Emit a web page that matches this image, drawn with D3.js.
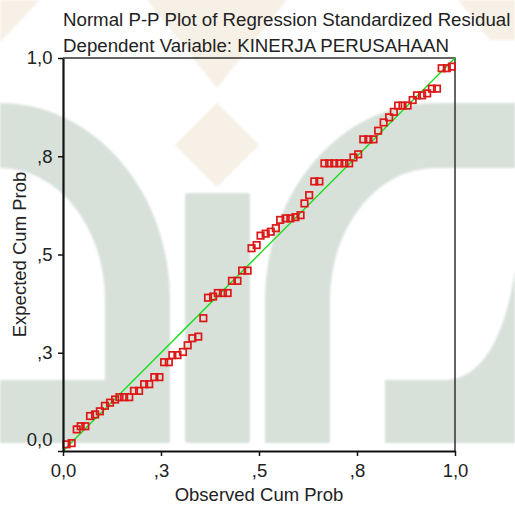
<!DOCTYPE html>
<html>
<head>
<meta charset="utf-8">
<script src="https://cdn.jsdelivr.net/npm/d3@7"></script>
<style>
  body { margin: 0; background: #fff; }
  svg { display: block; }
  text { font-family: "Liberation Sans", Arial, sans-serif; fill: #222; }
</style>
</head>
<body>
<div id="chart"></div>
<script>
// values
var observed = [0.009, 0.022, 0.035, 0.045, 0.057, 0.069, 0.082, 0.094, 0.107, 0.120,
    0.133, 0.144, 0.156, 0.169, 0.181, 0.194, 0.207, 0.220, 0.233, 0.246,
    0.258, 0.270, 0.279, 0.292, 0.306, 0.318, 0.330, 0.345, 0.358, 0.370,
    0.383, 0.395, 0.408, 0.420, 0.431, 0.445, 0.457, 0.471, 0.481, 0.494,
    0.504, 0.517, 0.530, 0.543, 0.554, 0.568, 0.580, 0.593, 0.606, 0.616,
    0.628, 0.641, 0.654, 0.667, 0.679, 0.692, 0.705, 0.718, 0.730, 0.741,
    0.753, 0.766, 0.779, 0.792, 0.804, 0.818, 0.832, 0.844, 0.855, 0.866,
    0.879, 0.892, 0.903, 0.916, 0.929, 0.941, 0.954, 0.966, 0.979, 0.992];
var expected = [0.017, 0.020, 0.055, 0.063, 0.063, 0.089, 0.093, 0.101, 0.115, 0.123,
    0.131, 0.137, 0.137, 0.137, 0.153, 0.153, 0.170, 0.170, 0.188, 0.188,
    0.226, 0.226, 0.244, 0.244, 0.252, 0.269, 0.287, 0.291, 0.338, 0.390,
    0.393, 0.402, 0.402, 0.402, 0.433, 0.433, 0.459, 0.459, 0.516, 0.524,
    0.548, 0.553, 0.558, 0.567, 0.588, 0.592, 0.592, 0.595, 0.600, 0.630,
    0.651, 0.686, 0.686, 0.732, 0.732, 0.732, 0.732, 0.732, 0.732, 0.747,
    0.755, 0.793, 0.793, 0.793, 0.815, 0.836, 0.849, 0.863, 0.879, 0.879,
    0.879, 0.893, 0.905, 0.905, 0.910, 0.922, 0.922, 0.974, 0.974, 0.978];
var tickValues = [0, 0.25, 0.5, 0.75, 1];
var tickLabels = ["0,0", ",3", ",5", ",8", "1,0"];
var refLine = [0, 1];
var titleLines = ["Normal P-P Plot of Regression Standardized Residual",
    "Dependent Variable: KINERJA PERUSAHAAN"];
var xTitle = "Observed Cum Prob";
var yTitle = "Expected Cum Prob";

var width = 515, height = 506;
var margin = {top: 58, right: 60, bottom: 55, left: 63};
var plotW = width - margin.left - margin.right;
var plotH = height - margin.top - margin.bottom;

var svg = d3.select("#chart").append("svg")
    .attr("width", width)
    .attr("height", height);

svg.append("rect").attr("width", width).attr("height", height).attr("fill", "#fff");

// faint logo in the background
function drawWatermark(){
    var defs = svg.append("defs");
    defs.append("filter").attr("id", "soft")
        .append("feGaussianBlur").attr("stdDeviation", 1.2);
    var wm = svg.append("g").attr("filter", "url(#soft)");
    var green = "#d7e1da", beige = "#f7f0e6";

    wm.append("path").attr("fill", beige)
        .attr("d", "M147,0 L217,-88 L287,0 L217,88 Z");
    wm.append("path").attr("fill", beige)
        .attr("d", "M217,103 L259,145 L217,187 L175,145 Z");
    wm.append("path").attr("fill", beige)
        .attr("d", "M0,0 L40,0 L0,42 Z");
    wm.append("path").attr("fill", beige)
        .attr("d", "M458,0 L515,0 L515,40 L490,40 Z");

    wm.append("path").attr("fill", green)
        .attr("d", "M0,103 A170,197 0 0 1 170,300 L170,443 L0,443 L0,380 L105,380 L105,300 A105,132 0 0 0 0,168 Z");
    wm.append("rect").attr("fill", green)
        .attr("x", 185).attr("y", 193).attr("width", 65).attr("height", 250).attr("rx", 3);
    wm.append("path").attr("fill", green)
        .attr("d", "M265,443 L265,300 A170,197 0 0 1 435,103 L515,103 L515,168 L435,168 A105,132 0 0 0 330,300 L330,443 Z");
    wm.append("path").attr("fill", green)
        .attr("d", "M385,443 L385,380 L445,380 C480,380 505,340 515,270 L515,443 Z");
}
drawWatermark();

var x = d3.scaleLinear().domain([0, 1]).range([0, plotW]);
var y = d3.scaleLinear().domain([0, 1]).range([plotH, 0]);

var g = svg.append("g").attr("transform", "translate(" + margin.left + "," + margin.top + ")");

// top and right border
g.append("path")
    .attr("d", "M0,0 H" + plotW + " V" + plotH)
    .attr("fill", "none")
    .attr("stroke", "#333")
    .attr("stroke-width", 1.5);

// diagonal reference line
g.append("line")
    .attr("x1", x(refLine[0])).attr("y1", y(refLine[0]))
    .attr("x2", x(refLine[1])).attr("y2", y(refLine[1]))
    .attr("stroke", "#14dc14")
    .attr("stroke-width", 1.3);

var pts = observed.map(function(d, i){ return [d, expected[i]]; });
var s = 6.5;
g.selectAll("rect.pt")
    .data(pts)
    .enter()
    .append("rect")
    .attr("class", "pt")
    .attr("x", function(d){ return x(d[0]) - s/2; })
    .attr("y", function(d){ return y(d[1]) - s/2; })
    .attr("width", s)
    .attr("height", s)
    .attr("fill", "none")
    .attr("stroke", "#dd1616")
    .attr("stroke-width", 1.7);

function fmt(d){ return tickLabels[tickValues.indexOf(d)]; }

var xAxis = g.append("g")
    .attr("transform", "translate(0," + plotH + ")")
    .call(d3.axisBottom(x).tickValues(tickValues).tickFormat(fmt)
        .tickSize(5).tickSizeOuter(0).tickPadding(7.5));
var yAxis = g.append("g")
    .call(d3.axisLeft(y).tickValues(tickValues).tickFormat(fmt)
        .tickSize(5).tickSizeOuter(0).tickPadding(5.5));

[xAxis, yAxis].forEach(function(ax){
    ax.select(".domain").attr("stroke", "#111").attr("stroke-width", 2.2);
    ax.selectAll(".tick line").attr("stroke", "#111").attr("stroke-width", 1.5);
    ax.selectAll(".tick text")
        .style("font-family", '"Liberation Sans", Arial, sans-serif')
        .style("font-size", "18.5px")
        .attr("fill", "#222");
});
// the 0,0 on the y axis sits a little above its tick
yAxis.selectAll(".tick text").filter(function(d){ return d === 0; }).attr("dy", "-0.3em");

svg.append("text")
    .attr("x", margin.left + plotW / 2)
    .attr("y", 501)
    .attr("text-anchor", "middle")
    .style("font-size", "18.5px")
    .text(xTitle);

svg.append("text")
    .attr("transform", "translate(26," + (margin.top + plotH / 2) + ") rotate(-90)")
    .attr("text-anchor", "middle")
    .style("font-size", "18.5px")
    .text(yTitle);

svg.selectAll("text.title")
    .data(titleLines)
    .enter()
    .append("text")
    .attr("class", "title")
    .attr("x", margin.left)
    .attr("y", function(d, i){ return 26 + i * 26; })
    .style("font-size", "18.7px")
    .text(function(d){ return d; });
</script>
</body>
</html>
